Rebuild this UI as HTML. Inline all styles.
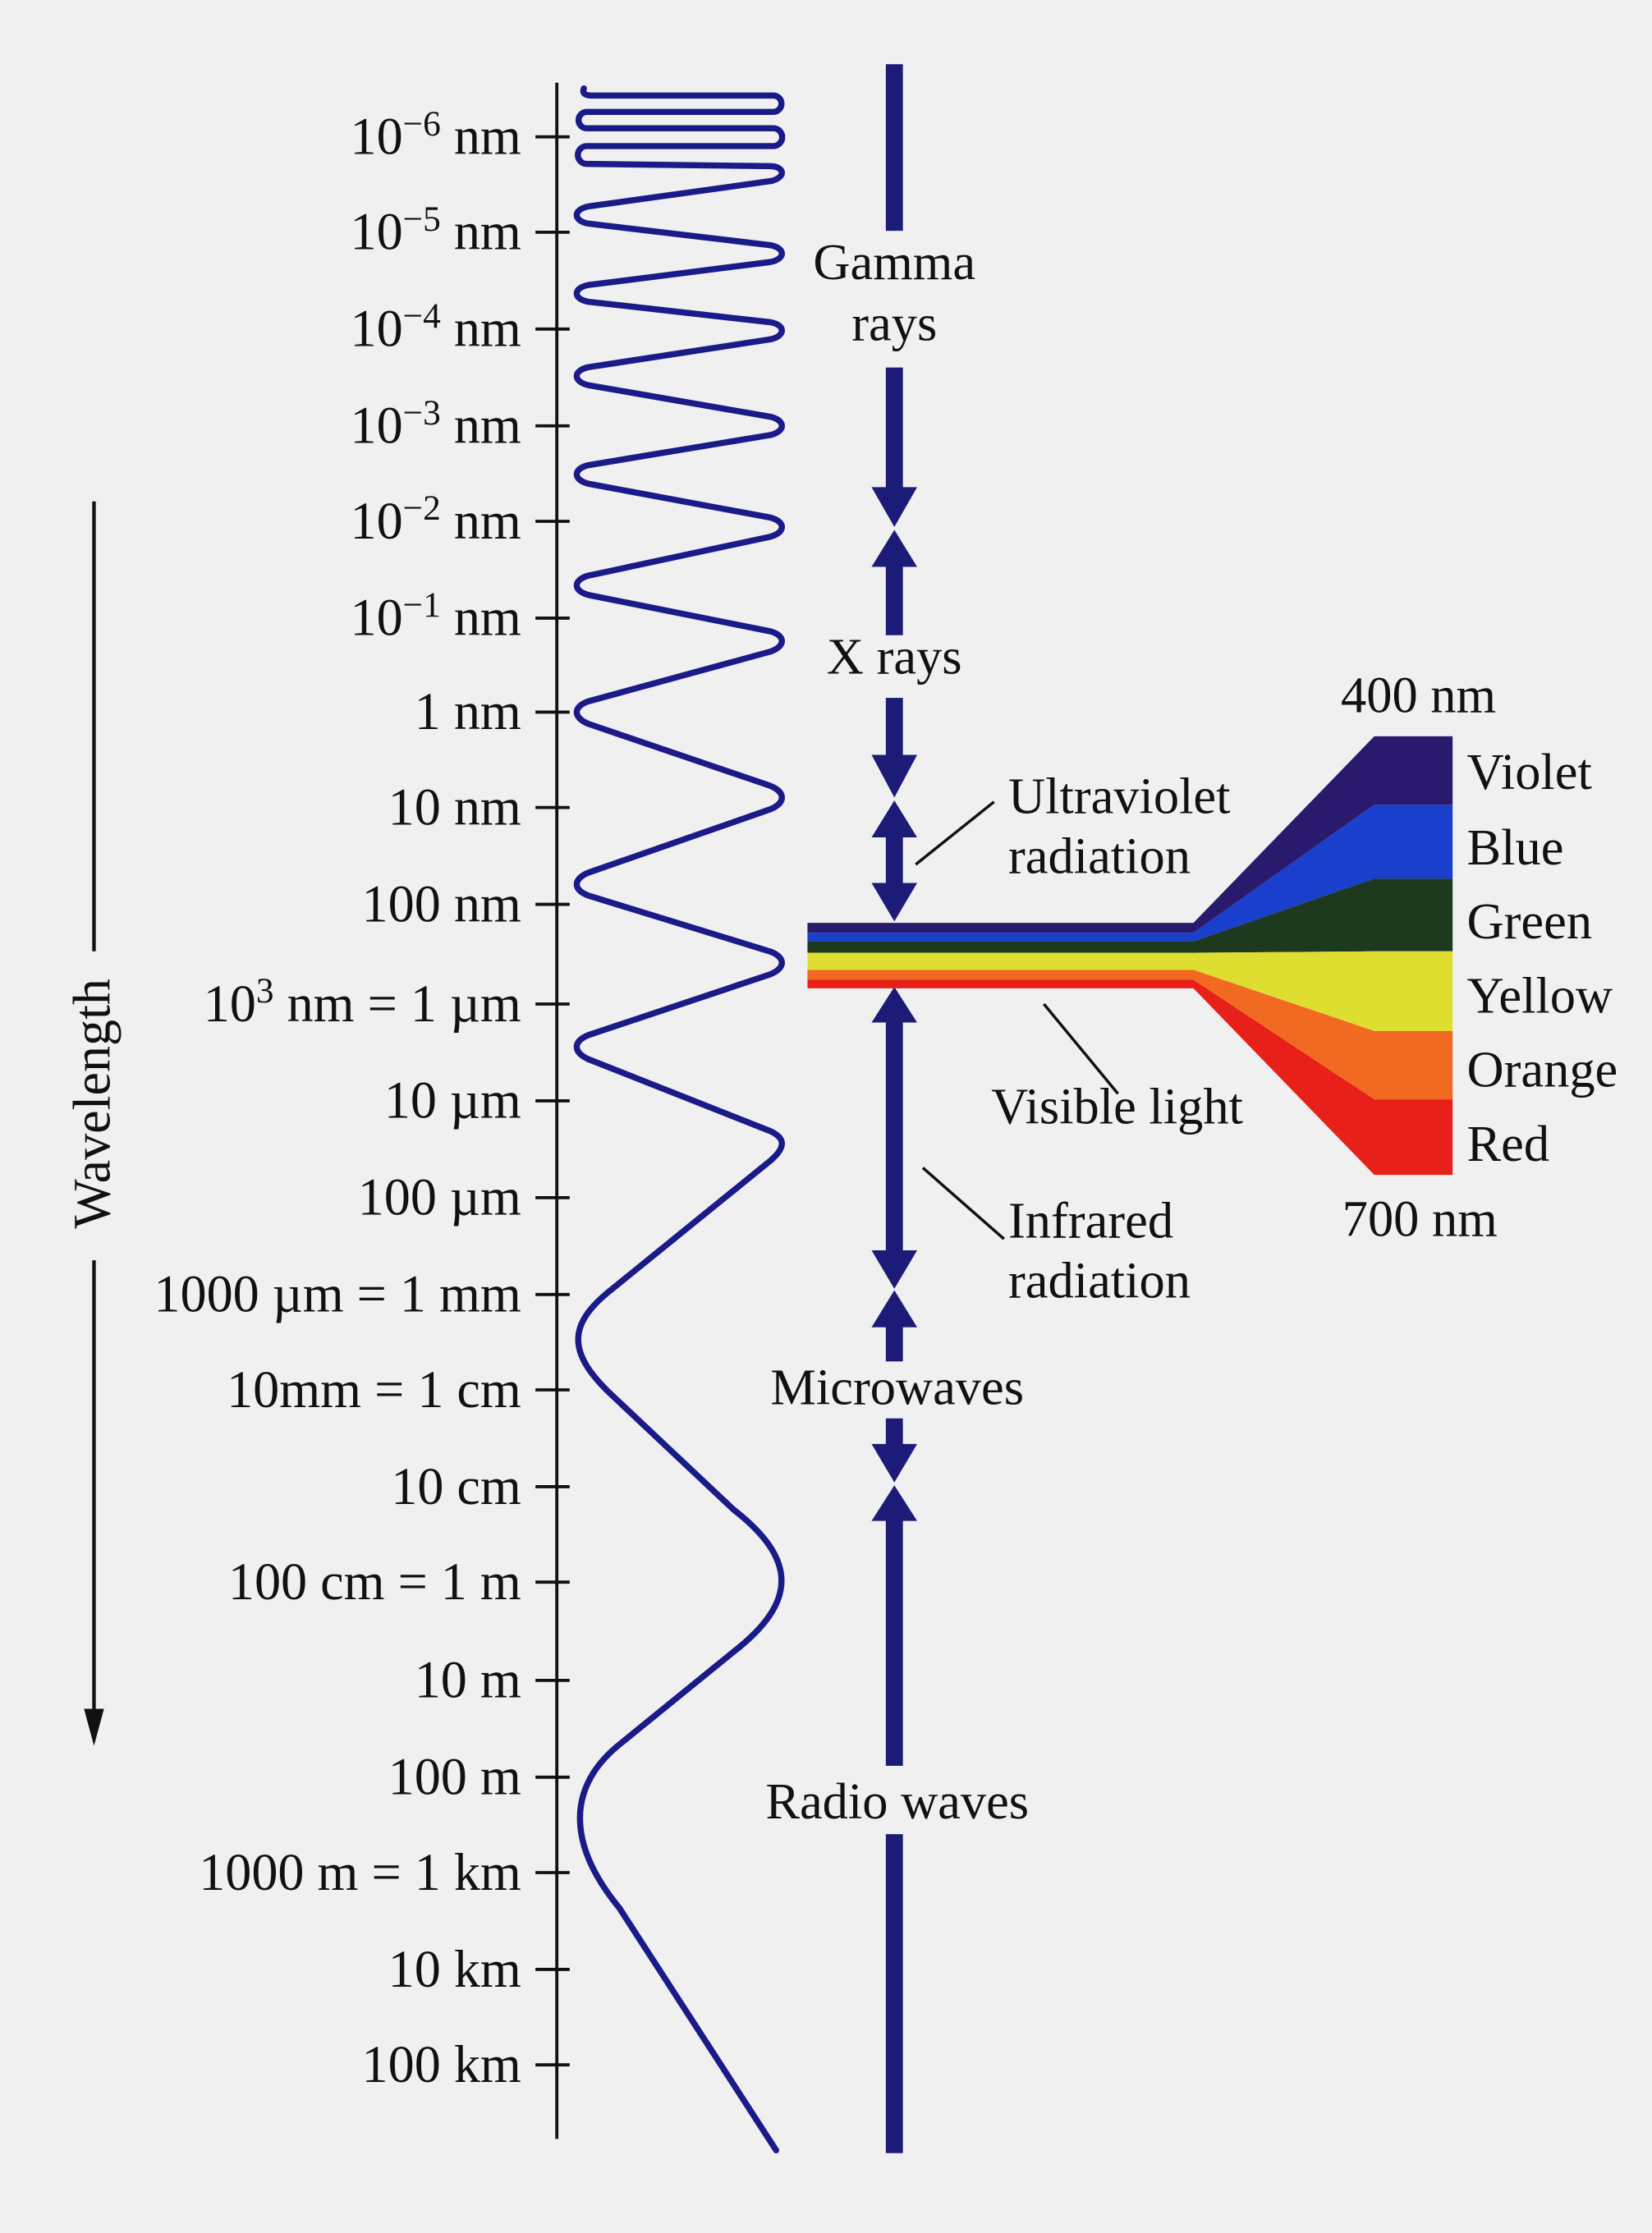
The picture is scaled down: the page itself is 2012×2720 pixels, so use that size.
<!DOCTYPE html>
<html><head><meta charset="utf-8"><style>
html,body{margin:0;padding:0;background:#f0f0f0;}
svg{display:block;}
text{font-family:"Liberation Serif",serif;fill:#111;}
</style></head><body>
<svg width="2012" height="2720" viewBox="0 0 1160 1568" xmlns="http://www.w3.org/2000/svg">
<rect width="1160" height="1568" fill="#f0f0f0"/>
<g stroke="#111" stroke-width="2.2">
<line x1="391" y1="58" x2="391" y2="1502"/>
<line x1="376" y1="96" x2="400" y2="96"/><line x1="376" y1="163" x2="400" y2="163"/>
<line x1="376" y1="231" x2="400" y2="231"/><line x1="376" y1="299" x2="400" y2="299"/>
<line x1="376" y1="366" x2="400" y2="366"/><line x1="376" y1="434" x2="400" y2="434"/>
<line x1="376" y1="500" x2="400" y2="500"/><line x1="376" y1="567" x2="400" y2="567"/>
<line x1="376" y1="635" x2="400" y2="635"/><line x1="376" y1="705" x2="400" y2="705"/>
<line x1="376" y1="773" x2="400" y2="773"/><line x1="376" y1="841" x2="400" y2="841"/>
<line x1="376" y1="909" x2="400" y2="909"/><line x1="376" y1="976" x2="400" y2="976"/>
<line x1="376" y1="1044" x2="400" y2="1044"/><line x1="376" y1="1111" x2="400" y2="1111"/>
<line x1="376" y1="1180" x2="400" y2="1180"/><line x1="376" y1="1248" x2="400" y2="1248"/>
<line x1="376" y1="1315" x2="400" y2="1315"/><line x1="376" y1="1383" x2="400" y2="1383"/>
<line x1="376" y1="1450" x2="400" y2="1450"/>
</g>
<g font-size="37" text-anchor="end">
<text x="366" y="108">10<tspan dy="-13" font-size="25">−6</tspan><tspan dy="13"> nm</tspan></text>
<text x="366" y="175">10<tspan dy="-13" font-size="25">−5</tspan><tspan dy="13"> nm</tspan></text>
<text x="366" y="243">10<tspan dy="-13" font-size="25">−4</tspan><tspan dy="13"> nm</tspan></text>
<text x="366" y="311">10<tspan dy="-13" font-size="25">−3</tspan><tspan dy="13"> nm</tspan></text>
<text x="366" y="378">10<tspan dy="-13" font-size="25">−2</tspan><tspan dy="13"> nm</tspan></text>
<text x="366" y="446">10<tspan dy="-13" font-size="25">−1</tspan><tspan dy="13"> nm</tspan></text>
<text x="366" y="512">1 nm</text>
<text x="366" y="579">10 nm</text>
<text x="366" y="647">100 nm</text>
<text x="366" y="717">10<tspan dy="-13" font-size="25">3</tspan><tspan dy="13"> nm = 1 µm</tspan></text>
<text x="366" y="785">10 µm</text>
<text x="366" y="853">100 µm</text>
<text x="366" y="921">1000 µm = 1 mm</text>
<text x="366" y="988">10mm = 1 cm</text>
<text x="366" y="1056">10 cm</text>
<text x="366" y="1123">100 cm = 1 m</text>
<text x="366" y="1192">10 m</text>
<text x="366" y="1260">100 m</text>
<text x="366" y="1327">1000 m = 1 km</text>
<text x="366" y="1395">10 km</text>
<text x="366" y="1462">100 km</text>
</g>
<g stroke="#111" stroke-width="2.5">
<line x1="66" y1="352" x2="66" y2="668"/>
<line x1="66" y1="885" x2="66" y2="1205"/>
</g>
<polygon points="59,1200 73,1200 66,1226" fill="#111"/>
<text x="0" y="0" font-size="37" text-anchor="middle" transform="translate(77,775) rotate(-90)">Wavelength</text>
<path fill="none" stroke="#1a1a88" stroke-width="4.3" stroke-linejoin="round" stroke-linecap="round" d="
M410,62 Q408,67 416,67 L543,67 A5.75,5.75 0 0 1 543,78.5 L412,78.5 A5.75,5.75 0 0 0 412,90 L543,90 A6.25,6.25 0 0 1 543,102.5 L412,102.5 A6.25,6.25 0 0 0 412,115
L541,116.6 C551.7,117 551.7,124.9 541,127.1
L413,144.9 C402.3,147.1 402.3,154.9 413,156.9
L541,172.1 C551.7,174.1 551.7,181.9 541,183.9
L413,200.1 C402.3,202.1 402.3,209.9 413,211.8
L541,226.2 C551.7,228.1 551.7,235.9 541,238.2
L413,257.8 C402.3,260.2 402.3,267.8 413,270.4
L541,292.6 C551.7,295.2 551.7,302.8 541,305.4
L413,326.6 C402.3,329.2 402.3,336.8 413,339.6
L541,363.4 C551.7,366.2 551.7,373.8 541,376.8
L413,404.2 C402.3,407.2 402.3,414.8 413,417.7
L541,443.3 C551.7,446.2 551.7,453.8 541,457.5
L413,492.5 C402.3,496.2 402.3,503.7 413,508.2
L541,551.8 C551.7,556.3 551.7,563.7 541,568.2
L413,612.8 C402.3,617.3 402.3,624.7 413,628.8
L541,668.2 C551.7,672.3 551.7,679.7 541,684.1
L413,726.9 C402.3,731.3 402.3,738.7 413,743.7
L541,794.3 C551.7,799.3 551.7,805.7 541,815
L430,905 C398,930 398,950 430,980
L515,1060 C560,1095 560,1125 515,1160
L435,1225 C398,1255 398,1295 435,1340
L545,1510"/>
<g fill="#1c1c78">
<rect x="622" y="45" width="12" height="117"/>
<rect x="622" y="258" width="12" height="88"/>
<polygon points="612,342 644,342 628,370"/>
<polygon points="612,398 644,398 628,372"/>
<rect x="622" y="396" width="12" height="50"/>
<rect x="622" y="490" width="12" height="44"/>
<polygon points="612,530 644,530 628,560"/>
<polygon points="612,588 644,588 628,562"/>
<rect x="622" y="586" width="12" height="36"/>
<polygon points="612,620 644,620 628,647"/>
<polygon points="612,718 644,718 628,693"/>
<rect x="622" y="716" width="12" height="164"/>
<polygon points="612,878 644,878 628,905"/>
<polygon points="612,932 644,932 628,906"/>
<rect x="622" y="930" width="12" height="26"/>
<rect x="622" y="996" width="12" height="20"/>
<polygon points="612,1014 644,1014 628,1041"/>
<polygon points="612,1068 644,1068 628,1043"/>
<rect x="622" y="1066" width="12" height="174"/>
<rect x="622" y="1288" width="12" height="224"/>
</g>
<g font-size="36" text-anchor="middle">
<text x="628" y="196">Gamma</text>
<text x="628" y="239">rays</text>
<text x="628" y="473">X rays</text>
<text x="630" y="986">Microwaves</text>
<text x="630" y="1277">Radio waves</text>
<text x="996" y="500">400 nm</text>
<text x="997" y="868">700 nm</text>
</g>
<polygon fill="#2a1a6e" points="567,648 838,648 965,517 1020,517 1020,565 965,565 838,655 567,655"/>
<polygon fill="#1a3fcc" points="567,655 838,655 965,565 1020,565 1020,617 965,617 838,661 567,661"/>
<polygon fill="#1d3a1e" points="567,661 838,661 965,617 1020,617 1020,668 965,668 838,669 567,669"/>
<polygon fill="#dede30" points="567,669 838,669 965,668 1020,668 1020,724 965,724 838,681 567,681"/>
<polygon fill="#f26a22" points="567,681 838,681 965,724 1020,724 1020,772 965,772 838,688 567,688"/>
<polygon fill="#e8201a" points="567,688 838,688 965,772 1020,772 1020,825 965,825 838,694 567,694"/>
<g font-size="36">
<text x="1030" y="554">Violet</text>
<text x="1030" y="607">Blue</text>
<text x="1030" y="659">Green</text>
<text x="1030" y="711">Yellow</text>
<text x="1030" y="763">Orange</text>
<text x="1030" y="815">Red</text>
<text x="708" y="571">Ultraviolet</text>
<text x="708" y="613">radiation</text>
<text x="696" y="789">Visible light</text>
<text x="708" y="869">Infrared</text>
<text x="708" y="911">radiation</text>
</g>
<g stroke="#111" stroke-width="2">
<line x1="698" y1="563" x2="643" y2="607"/>
<line x1="785" y1="768" x2="733" y2="705"/>
<line x1="705" y1="870" x2="648" y2="820"/>
</g>
</svg>
</body></html>
